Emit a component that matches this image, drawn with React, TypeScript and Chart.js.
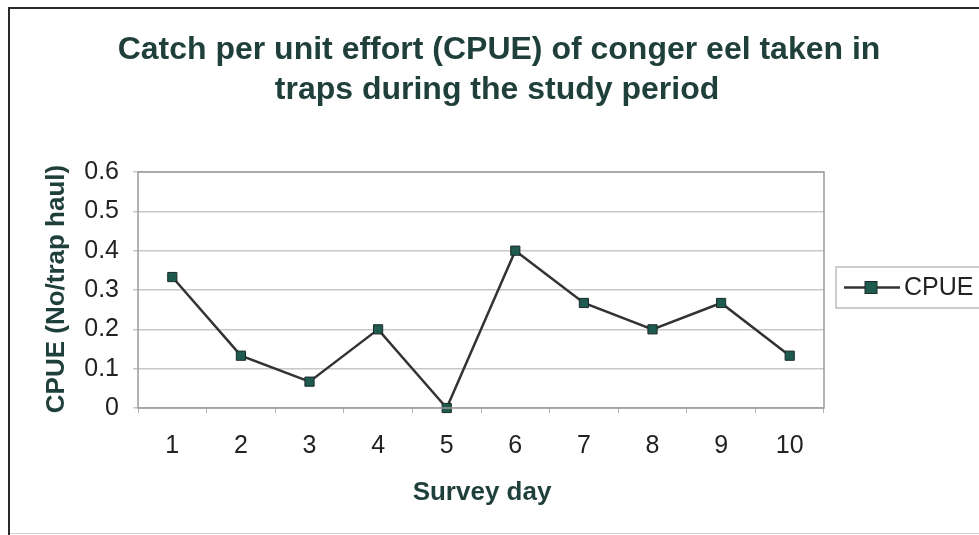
import React, { useEffect, useRef } from "react";
import { Chart, registerables } from "chart.js";

Chart.register(...registerables);

const surveyDays = ["1", "2", "3", "4", "5", "6", "7", "8", "9", "10"];
const cpueValues = [0.333, 0.133, 0.067, 0.2, 0, 0.4, 0.267, 0.2, 0.267, 0.133];
const yTicks = [0, 0.1, 0.2, 0.3, 0.4, 0.5, 0.6];
const titleLines = [
  "Catch per unit effort (CPUE) of conger eel taken in",
  "traps during the study period",
];
const yTitle = "CPUE (No/trap haul)";
const xTitle = "Survey day";
const seriesName = "CPUE";

const TEXT_DARK = "#1f3f3a";
const FONT = "Arial, 'Liberation Sans', sans-serif";

const decorPlugin = {
  id: "decor",
  beforeDraw(chart: any) {
    const ctx = chart.ctx;
    ctx.save();
    ctx.fillStyle = "#ffffff";
    ctx.fillRect(0, 0, chart.width, chart.height);
    // outer frame
    ctx.strokeStyle = "#2a2a2a";
    ctx.lineWidth = 2;
    ctx.beginPath();
    ctx.moveTo(9, 536);
    ctx.lineTo(9, 8);
    ctx.lineTo(979, 8);
    ctx.stroke();
    ctx.strokeStyle = "#d0d0d0";
    ctx.lineWidth = 1;
    ctx.beginPath();
    ctx.moveTo(10, 533.5);
    ctx.lineTo(979, 533.5);
    ctx.stroke();
    ctx.restore();
  },
  afterDraw(chart: any) {
    const ctx = chart.ctx;
    const area = chart.chartArea;
    ctx.save();
    // title
    ctx.fillStyle = TEXT_DARK;
    ctx.font = `bold 32px ${FONT}`;
    ctx.textAlign = "center";
    ctx.textBaseline = "middle";
    ctx.fillText(titleLines[0], 499, 50);
    ctx.fillText(titleLines[1], 497, 90);
    // axis titles
    ctx.font = `bold 26px ${FONT}`;
    ctx.fillText(xTitle, 482, 493);
    ctx.save();
    ctx.translate(57, 289);
    ctx.rotate(-Math.PI / 2);
    ctx.fillText(yTitle, 0, 0);
    ctx.restore();
    // plot border
    ctx.strokeStyle = "#9a9a9a";
    ctx.lineWidth = 1.5;
    ctx.strokeRect(area.left, area.top, area.right - area.left, area.bottom - area.top);
    // legend
    const lx = 836, ly = 267, lw = 150, lh = 41;
    ctx.strokeStyle = "#bdbdbd";
    ctx.lineWidth = 1.5;
    ctx.strokeRect(lx, ly, lw, lh);
    const cy = ly + lh / 2;
    ctx.strokeStyle = "#333333";
    ctx.lineWidth = 2.5;
    ctx.beginPath();
    ctx.moveTo(844, cy);
    ctx.lineTo(900, cy);
    ctx.stroke();
    ctx.fillStyle = "#1f5a4f";
    ctx.fillRect(865, cy - 6, 12, 12);
    ctx.strokeStyle = "#1a2a28";
    ctx.lineWidth = 1;
    ctx.strokeRect(865, cy - 6, 12, 12);
    ctx.fillStyle = "#222222";
    ctx.font = `25px ${FONT}`;
    ctx.textAlign = "left";
    ctx.fillText(seriesName, 904, cy + 1);
    ctx.restore();
  },
};

export default function App() {
  const ref = useRef<HTMLCanvasElement | null>(null);
  useEffect(() => {
    if (!ref.current) return;
    const chart = new Chart(ref.current, {
      type: "line",
      data: {
        labels: surveyDays,
        datasets: [
          {
            label: seriesName,
            data: cpueValues,
            borderColor: "#333333",
            borderWidth: 2.5,
            pointStyle: "rect",
            pointRadius: 6.5,
            pointBackgroundColor: "#1f5a4f",
            pointBorderColor: "#1a2a28",
            pointBorderWidth: 1,
            tension: 0,
            clip: false as any,
          },
        ],
      },
      options: {
        animation: false,
        responsive: false,
        maintainAspectRatio: false,
        layout: { padding: { left: 0, top: 172, right: 155, bottom: 0 } },
        plugins: {
          legend: { display: false },
          title: { display: false },
          tooltip: { enabled: false },
        },
        scales: {
          x: {
            offset: true,
            grid: {
              offset: true,
              drawOnChartArea: false,
              drawTicks: true,
              tickLength: 5,
              color: "#b0b0b0",
            },
            border: { display: false },
            ticks: {
              color: "#222222",
              font: { size: 25, family: FONT },
              padding: 18,
              maxRotation: 0,
            },
            afterFit(scale: any) {
              scale.height = 127;
            },
          },
          y: {
            min: 0,
            max: 0.6,
            afterBuildTicks(scale: any) {
              scale.ticks = yTicks.map((v) => ({ value: v }));
            },
            grid: {
              color: "#c8c8c8",
              lineWidth: 1.5,
              drawTicks: true,
              tickLength: 5,
            },
            border: { display: false },
            ticks: {
              color: "#222222",
              font: { size: 25, family: FONT },
              padding: 14,
              callback: (v: any) => String(Math.round(Number(v) * 10) / 10),
            },
            afterFit(scale: any) {
              scale.width = 138;
            },
          },
        },
      },
      plugins: [decorPlugin],
    });
    return () => chart.destroy();
  }, []);
  return (
    <div style={{ position: "absolute", left: 0, top: 0, width: 979, height: 535, background: "#fff" }}>
      <canvas ref={ref} width={979} height={535} style={{ display: "block" }} />
    </div>
  );
}
